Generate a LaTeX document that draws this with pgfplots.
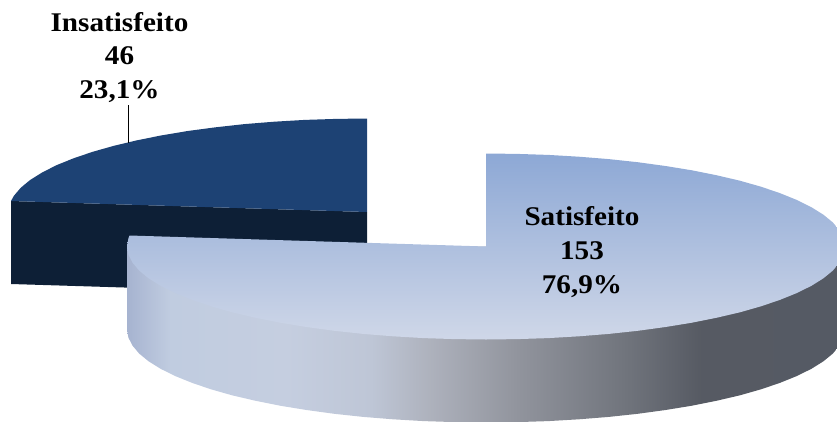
\documentclass[border=0pt]{standalone}
\usepackage{pgfplots}
\usepackage{pgfplotstable}
\usepackage{fontspec}
\pgfplotsset{compat=1.18}
\setmainfont{Liberation Serif}
\newfontfamily\labelfont[FakeStretch=1.08]{Liberation Serif}

\definecolor{smalltop}{HTML}{1D4274}
\definecolor{smallside}{HTML}{0D1F36}
\definecolor{bigtopA}{HTML}{8DA8D5}
\definecolor{bigtopB}{HTML}{AFC0DC}
\definecolor{bigtopC}{HTML}{CFD7E8}

% Rim of the large slice: dark to the right, pale in the middle, bluish at the far left.
% The inner 25bp..75bp span maps onto the width of the shaded path.
\pgfdeclarehorizontalshading{rimshade}{100bp}{
  color(0bp)=(rgb,255:red,166;green,179;blue,208);
  color(25bp)=(rgb,255:red,166;green,179;blue,208);
  color(28bp)=(rgb,255:red,192;green,204;blue,224);
  color(36bp)=(rgb,255:red,197;green,206;blue,224);
  color(42bp)=(rgb,255:red,190;green,198;blue,214);
  color(46bp)=(rgb,255:red,174;green,178;blue,189);
  color(52bp)=(rgb,255:red,146;green,149;blue,158);
  color(60bp)=(rgb,255:red,111;green,115;blue,123);
  color(65bp)=(rgb,255:red,86;green,90;blue,99);
  color(75bp)=(rgb,255:red,85;green,90;blue,100);
  color(100bp)=(rgb,255:red,85;green,90;blue,100)}

% Outline of the top of the 46 slice (23,1%, from 276,8 degrees round to the top)
\pgfplotstableread{
x y
367 212
11 201
13.9 195.8
20.7 187.8
30.1 180
42.1 172.5
56.5 165.2
73.3 158.4
92.4 151.9
113.5 145.9
136.6 140.4
161.4 135.4
187.7 131
215.5 127.3
244.4 124.1
274.2 121.7
304.7 119.9
335.8 118.9
367 118.5
}\smalltoptable

% Cut face of the 46 slice
\pgfplotstableread{
x y
11 201
367 212
367 295
11 284
}\smallsidetable

% Outline of the top of the 153 slice (76,9%, clockwise from the top)
\pgfplotstableread{
x y
486 246.5
486 153.5
517.3 153.9
548.3 154.9
578.9 156.7
608.8 159.1
637.7 162.2
665.5 166.0
691.9 170.3
716.8 175.3
739.9 180.7
761.0 186.7
780.1 193.2
796.9 200.0
811.4 207.2
823.4 214.7
832.8 222.4
839.5 230.4
843.6 238.4
845.0 246.5
843.6 254.6
839.5 262.6
832.8 270.6
823.4 278.3
811.4 285.8
796.9 293.0
780.1 299.8
761.0 306.3
739.9 312.3
716.8 317.7
691.9 322.7
665.5 327.0
637.7 330.8
608.8 333.9
578.9 336.3
548.3 338.1
517.3 339.1
486 339.5
454.7 339.1
423.7 338.1
393.1 336.3
363.2 333.9
334.3 330.8
306.5 327.0
280.1 322.7
255.2 317.7
232.1 312.3
211.0 306.3
191.9 299.8
175.1 293.0
160.6 285.8
148.6 278.3
139.2 270.6
132.5 262.6
128.4 254.6
127.0 246.5
128.4 238.4
129.5 235.5
}\bigtoptable

% Curved rim of the 153 slice
\pgfplotstableread{
x y
845 246.5
845 329.5
843.6 337.6
839.5 345.6
832.8 353.6
823.4 361.3
811.4 368.8
796.9 376
780.1 382.8
761 389.3
739.9 395.3
716.8 400.7
691.9 405.7
665.5 410
637.7 413.8
608.8 416.9
578.9 419.3
548.3 421.1
517.3 422.1
486 422.5
454.7 422.1
423.7 421.1
393.1 419.3
363.2 416.9
334.3 413.8
306.5 410
280.1 405.7
255.2 400.7
232.1 395.3
211 389.3
191.9 382.8
175.1 376
160.6 368.8
148.6 361.3
139.2 353.6
132.5 345.6
128.4 337.6
127 329.5
127 246.5
}\bigsidetable

\newcommand{\pielabel}[3]{\node[anchor=base,inner sep=0pt,text=black,font=\labelfont\bfseries\fontsize{27}{34}\selectfont] at (axis cs:#1,#2) {#3};}

\begin{document}
\begin{tikzpicture}
\path[use as bounding box] (0,0) rectangle (837pt,421pt);
\begin{axis}[
  at={(0,0)}, anchor=south west,
  width=837pt, height=421pt, scale only axis,
  xmin=0, xmax=837, ymin=0, ymax=421,
  y dir=reverse,
  hide axis,
]
% Slice "Insatisfeito"
\addplot[draw=none, fill=smallside] table {\smallsidetable} -- cycle;
\addplot[draw=none, fill=smalltop] table {\smalltoptable} -- cycle;
% Slice "Satisfeito"
\addplot[draw=none, shading=rimshade] table {\bigsidetable} -- cycle;
\addplot[draw=none, top color=bigtopA, middle color=bigtopB, bottom color=bigtopC] table {\bigtoptable} -- cycle;
% Leader line of the outer label
\addplot[black, line width=1.6pt] coordinates {(128.6,105) (128.6,143)};

\pielabel{119.5}{31}{Insatisfeito}
\pielabel{119.5}{64.5}{46}
\pielabel{119.5}{98}{23,1\%}
\pielabel{582}{225}{Satisfeito}
\pielabel{582}{259}{153}
\pielabel{582}{293}{76,9\%}
\end{axis}
\end{tikzpicture}
\end{document}
